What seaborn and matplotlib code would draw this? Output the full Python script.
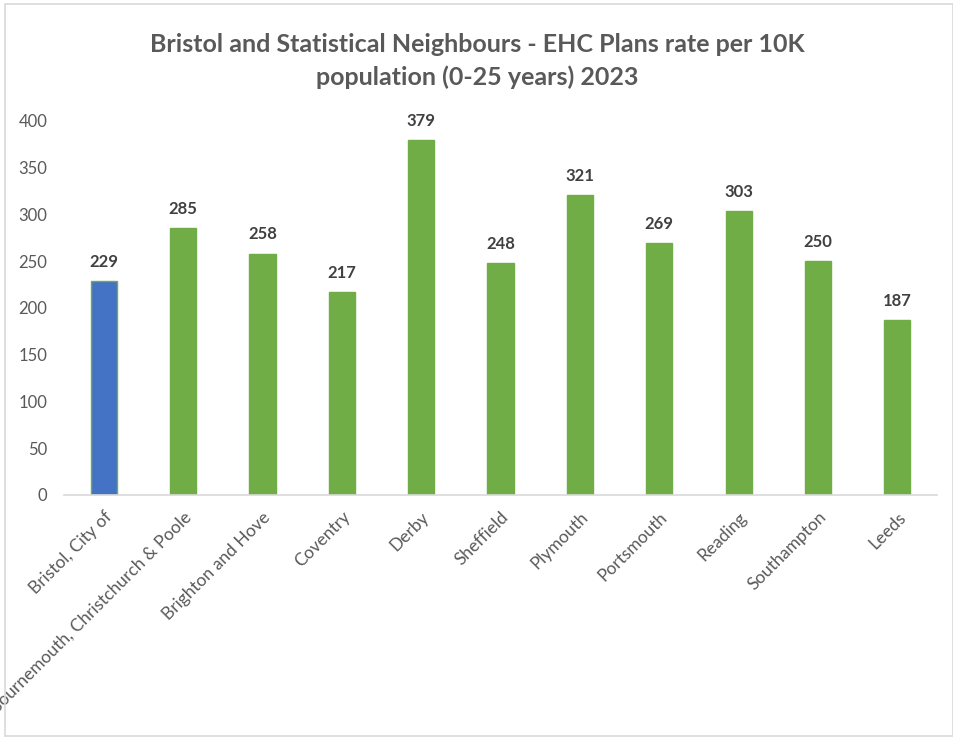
import matplotlib
matplotlib.use("Agg")
import matplotlib.pyplot as plt
import seaborn as sns
import pandas as pd
from matplotlib.patches import Rectangle

areas = ["Bristol, City of", "Bournemouth, Christchurch & Poole", "Brighton and Hove",
         "Coventry", "Derby", "Sheffield", "Plymouth", "Portsmouth", "Reading",
         "Southampton", "Leeds"]
rates = [229, 285, 258, 217, 379, 248, 321, 269, 303, 250, 187]
y_ticks = [0, 50, 100, 150, 200, 250, 300, 350, 400]
title_lines = ["Bristol and Statistical Neighbours - EHC Plans rate per 10K",
               "population (0-25 years) 2023"]

BLUE = "#4472C4"
GREEN = "#70AD47"
TEXT = "#595959"

sns.set_theme(style="white")
plt.rcParams["font.family"] = ["Lato", "DejaVu Sans"]

df = pd.DataFrame({"area": areas, "rate": rates})
palette = {a: (BLUE if i == 0 else GREEN) for i, a in enumerate(areas)}

fig = plt.figure(figsize=(9.54, 7.37), dpi=100)
ax = fig.add_axes([0.0671, 0.3284, 0.9151, 0.5078])

sns.barplot(data=df, x="area", y="rate", hue="area", palette=palette,
            width=0.33, edgecolor=GREEN, linewidth=1.0, legend=False, ax=ax,
            saturation=1)

ax.set_ylim(0, 400)
ax.set_xlim(-0.5, len(areas) - 0.5)
ax.set_yticks(y_ticks)
ax.set_yticklabels([str(t) for t in y_ticks], fontsize=12, color=TEXT)
ax.tick_params(axis="y", length=0, pad=12)
ax.tick_params(axis="x", length=0, pad=10)
ax.set_xticks(range(len(areas)))
ax.set_xticklabels(areas, rotation=45, ha="right", rotation_mode="anchor",
                   fontsize=12.5, color=TEXT)
ax.set_xlabel("")
ax.set_ylabel("")
for side in ["top", "right", "left"]:
    ax.spines[side].set_visible(False)
ax.spines["bottom"].set_color("#D9D9D9")
ax.spines["bottom"].set_linewidth(1.2)

for i, v in enumerate(rates):
    ax.annotate(str(v), (i, v), xytext=(0, 8), textcoords="offset points",
                ha="center", va="bottom", fontsize=12, fontweight="bold",
                color="#404040")

fig.text(0.5, 1 - 45 / 737, title_lines[0], ha="center", va="center",
         fontsize=18, fontweight="bold", color=TEXT)
fig.text(0.5, 1 - 77 / 737, title_lines[1], ha="center", va="center",
         fontsize=18, fontweight="bold", color=TEXT)

fig.patches.append(Rectangle((0.005, 0.001), 0.994, 0.994, transform=fig.transFigure,
                             fill=False, edgecolor="#D9D9D9", linewidth=1.2))

fig.savefig("out.png", dpi=100, facecolor="white")
